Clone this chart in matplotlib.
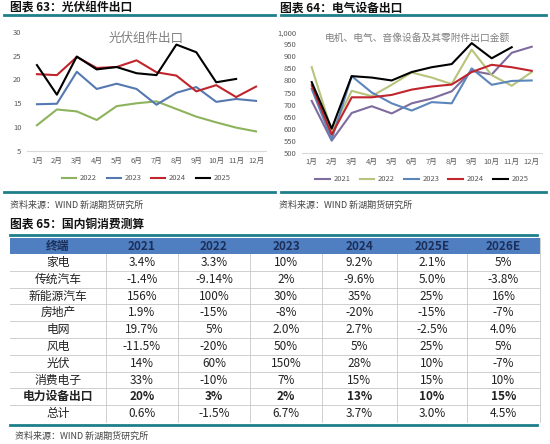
import matplotlib
matplotlib.use('Agg')
import matplotlib.pyplot as plt
from matplotlib.patches import Rectangle

plt.rcParams['font.family'] = ['Noto Sans CJK SC', 'DejaVu Sans']

months = ['1月', '2月', '3月', '4月', '5月', '6月', '7月', '8月', '9月', '10月', '11月', '12月']

# chart 63: PV module exports
pv_2022 = [10.4, 13.7, 13.3, 11.5, 14.4, 15.0, 15.4, 13.8, 12.2, 11.0, 9.9, 9.1]
pv_2023 = [14.8, 14.9, 21.6, 18.0, 19.1, 18.0, 14.7, 17.2, 18.4, 15.3, 15.9, 15.5]
pv_2024 = [21.1, 20.9, 24.7, 22.4, 22.6, 24.0, 21.5, 20.8, 17.5, 18.8, 16.3, 18.5]
pv_2025 = [23.0, 16.8, 24.8, 22.1, 22.6, 21.3, 20.9, 27.3, 25.7, 19.4, 20.1]

# chart 64: electrical equipment exports
el_2021 = [715, 550, 665, 693, 663, 705, 725, 755, 840, 825, 915, 940]
el_2022 = [855, 590, 757, 735, 782, 833, 812, 785, 928, 822, 778, 835]
el_2023 = [765, 555, 818, 750, 705, 675, 710, 705, 850, 782, 798, 800]
el_2024 = [780, 575, 730, 730, 740, 762, 775, 783, 835, 865, 855, 840]
el_2025 = [793, 600, 818, 812, 800, 835, 855, 868, 955, 892, 938]

# table 65
tbl_header = ['终端', '2021', '2022', '2023', '2024', '2025E', '2026E']
tbl_rows = ['家电', '传统汽车', '新能源汽车', '房地产', '电网', '风电', '光伏', '消费电子', '电力设备出口', '总计']
tbl_2021 = ['3.4%', '-1.4%', '156%', '1.9%', '19.7%', '-11.5%', '14%', '33%', '20%', '0.6%']
tbl_2022 = ['3.3%', '-9.14%', '100%', '-15%', '5%', '-20%', '60%', '-10%', '3%', '-1.5%']
tbl_2023 = ['10%', '2%', '30%', '-8%', '2.0%', '50%', '150%', '7%', '2%', '6.7%']
tbl_2024 = ['9.2%', '-9.6%', '35%', '-20%', '2.7%', '5%', '28%', '15%', '13%', '3.7%']
tbl_2025 = ['2.1%', '5.0%', '25%', '-15%', '-2.5%', '25%', '10%', '15%', '10%', '3.0%']
tbl_2026 = ['5%', '-3.8%', '16%', '-7%', '4.0%', '5%', '-7%', '10%', '15%', '4.5%']

W, H = 550, 444
teal = '#1d7f8a'
src = '资料来源：WIND 新湖期货研究所'

fig = plt.figure(figsize=(W / 100, H / 100), dpi=100)
bg = fig.add_axes([0, 0, 1, 1])
bg.set_xlim(0, W)
bg.set_ylim(H, 0)
bg.axis('off')

# headers, rules, sources
bg.text(10, 8, '图表 63：光伏组件出口', fontsize=8.5, fontweight='bold', va='center', color='#111111')
bg.text(280, 8, '图表 64：电气设备出口', fontsize=8.5, fontweight='bold', va='center', color='#111111')
bg.plot([4, 275], [15.5, 15.5], color=teal, lw=2)
bg.plot([281, 546], [15.5, 15.5], color=teal, lw=2)
bg.plot([4, 275], [192, 192], color=teal, lw=2)
bg.plot([281, 546], [192, 192], color=teal, lw=2)
bg.text(10, 205, src, fontsize=6.5, va='center', color='#444444')
bg.text(279, 205, src, fontsize=6.5, va='center', color='#444444')

bg.text(10, 224, '图表 65：国内铜消费测算', fontsize=8.5, fontweight='bold', va='center', color='#111111')
bg.plot([10, 537], [235, 235], color=teal, lw=2)
bg.plot([10, 537], [425, 425], color=teal, lw=2)
bg.text(15, 436, src, fontsize=6.5, va='center', color='#444444')

# table
col_edges = [10, 106, 178, 250, 322, 397, 467, 540]
head_top, head_bot = 238, 254
row_h = 16.8
bg.add_patch(Rectangle((col_edges[0], head_top), col_edges[-1] - col_edges[0], head_bot - head_top,
                       facecolor='#4f7fc0', edgecolor='none'))
for i, h in enumerate(tbl_header):
    cx = (col_edges[i] + col_edges[i + 1]) / 2
    bg.text(cx, (head_top + head_bot) / 2, h, fontsize=8.5, fontweight='bold',
            ha='center', va='center', color='#1c2f5a')

cols = [tbl_rows, tbl_2021, tbl_2022, tbl_2023, tbl_2024, tbl_2025, tbl_2026]
n = len(tbl_rows)
for r in range(n):
    y0 = head_bot + r * row_h
    if r > 0:
        bg.plot([col_edges[0], col_edges[-1]], [y0, y0], color='#c8c8c8', lw=0.6)
    bold = tbl_rows[r] == '电力设备出口'
    for c, col in enumerate(cols):
        cx = (col_edges[c] + col_edges[c + 1]) / 2
        bg.text(cx, y0 + row_h / 2, col[r], fontsize=8.5, ha='center', va='center',
                color='#222222', fontweight='bold' if bold else 'normal')
for x in col_edges[1:-1]:
    bg.plot([x, x], [head_bot, head_bot + n * row_h], color='#c8c8c8', lw=0.6)
bg.plot([col_edges[-1], col_edges[-1]], [head_top, head_bot + n * row_h], color='#c8c8c8', lw=0.6)


def px_axes(x0, x1, ytop, ybot):
    return fig.add_axes([x0 / W, 1 - ybot / H, (x1 - x0) / W, (ybot - ytop) / H])


def style(ax):
    for s in ['top', 'right', 'left']:
        ax.spines[s].set_visible(False)
    ax.spines['bottom'].set_color('#d9d9d9')
    ax.tick_params(length=0, labelsize=5.5, colors='#595959', pad=4)
    ax.set_facecolor('none')
    ax.set_xticks(range(12))
    ax.set_xticklabels(months)
    ax.set_xlim(-0.5, 11.5)


# chart 63
ax1 = px_axes(27, 266, 31.7, 151)
ax1.plot(range(12), pv_2022, color='#8db35c', lw=1.5, label='2022')
ax1.plot(range(12), pv_2023, color='#5578b0', lw=1.5, label='2023')
ax1.plot(range(12), pv_2024, color='#c0242c', lw=1.5, label='2024')
ax1.plot(range(11), pv_2025, color='#000000', lw=1.5, label='2025')
ax1.set_ylim(5, 30)
ax1.set_yticks([5, 10, 15, 20, 25, 30])
style(ax1)
ax1.text(0.5, 0.94, '光伏组件出口', transform=ax1.transAxes, ha='center', va='center',
         fontsize=9, color='#7f7f7f')
ax1.legend(loc='center', bbox_to_anchor=(0.5, -0.23), ncol=4, frameon=False,
           fontsize=5.5, handlelength=1.8, handletextpad=0.5, columnspacing=1.3,
           labelcolor='#595959')

# chart 64
ax2 = px_axes(301.7, 541.7, 32.3, 152.7)
ax2.plot(range(12), el_2021, color='#7e6c9e', lw=1.5, label='2021')
ax2.plot(range(12), el_2022, color='#b8c47c', lw=1.5, label='2022')
ax2.plot(range(12), el_2023, color='#5b86bc', lw=1.5, label='2023')
ax2.plot(range(12), el_2024, color='#c0242c', lw=1.5, label='2024')
ax2.plot(range(11), el_2025, color='#000000', lw=1.5, label='2025')
ax2.set_ylim(500, 1000)
ax2.set_yticks(range(500, 1001, 50))
ax2.set_yticklabels(['{:,}'.format(v) for v in range(500, 1001, 50)])
style(ax2)
ax2.text(0.48, 0.95, '电机、电气、音像设备及其零附件出口金额', transform=ax2.transAxes,
         ha='center', va='center', fontsize=7, color='#7f7f7f')
ax2.legend(loc='center', bbox_to_anchor=(0.5, -0.22), ncol=5, frameon=False,
           fontsize=5.5, handlelength=1.9, handletextpad=0.5, columnspacing=1.2,
           labelcolor='#595959')

fig.savefig('out.png', dpi=100)
